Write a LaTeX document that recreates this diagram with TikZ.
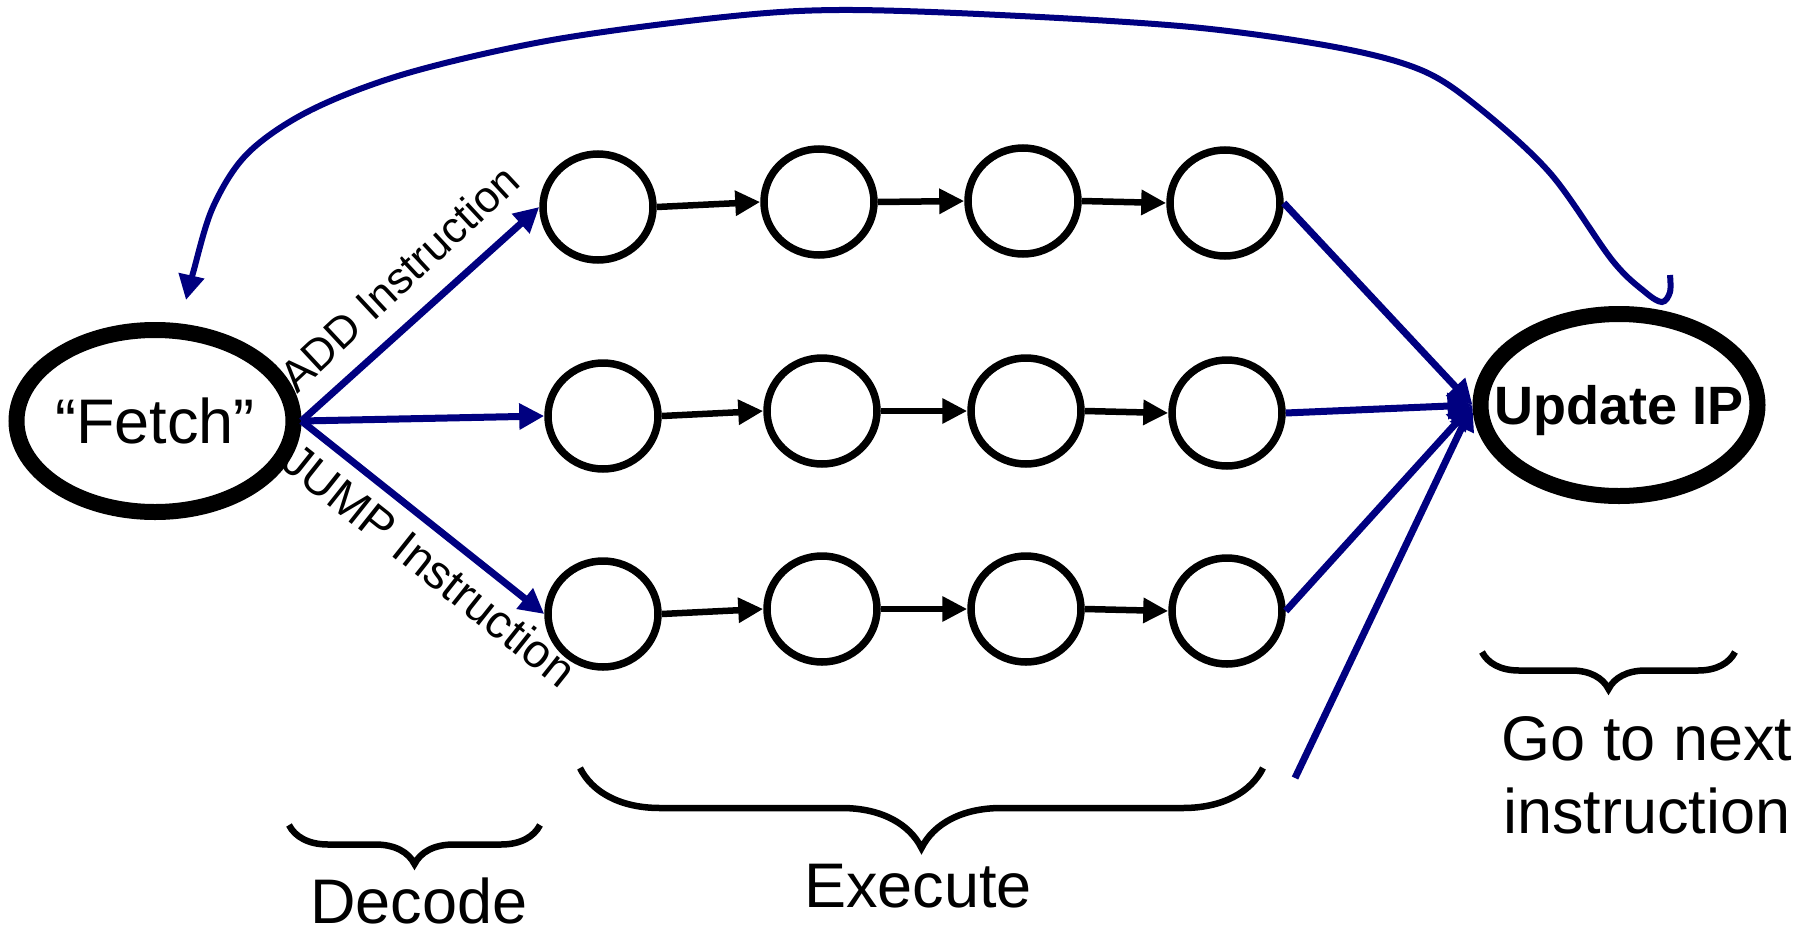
\documentclass[tikz,border=0pt]{standalone}
\usepackage{fontspec}
\setmainfont{Liberation Sans}
\usetikzlibrary{arrows.meta,shapes.geometric,decorations.pathreplacing}
\definecolor{navyblue}{RGB}{0,0,128}
\begin{document}
\begin{tikzpicture}[x=1pt,y=-1pt,
  bigell/.style={ellipse, draw, line width=16pt, minimum width=277pt, minimum height=182pt, inner sep=0pt},
  stage/.style={ellipse, draw, line width=7.5pt, minimum width=110pt, minimum height=106pt, inner sep=0pt},
  blk/.style={line width=6.5pt, -{Triangle[length=25pt,width=24pt]}},
  blu/.style={draw=navyblue, line width=7pt, -{Triangle[length=25pt,width=25pt]}},
  brc/.style={decorate, decoration={brace, mirror, amplitude=#1}, line width=6.5pt},
  lab/.style={font=\fontsize{63}{73}\selectfont, inner sep=0pt}
]
\useasboundingbox (0,0) rectangle (1810,929);

% main ellipses
\node[bigell, font=\fontsize{63}{75}\selectfont] (fetch) at (155,421) {\makebox[0pt]{“Fetch”}};
\node[bigell, font=\bfseries\fontsize{54}{64}\selectfont, text depth=0pt] (upd) at (1619,405) {\makebox[0pt]{Update IP}};

% stage circles
\node[stage] (a1) at (598,207) {};
\node[stage] (a2) at (819,202) {};
\node[stage] (a3) at (1023,201) {};
\node[stage] (a4) at (1225,203) {};
\node[stage] (b1) at (603,416) {};
\node[stage] (b2) at (822,411) {};
\node[stage] (b3) at (1026,411) {};
\node[stage] (b4) at (1227,413) {};
\node[stage] (c1) at (603,614) {};
\node[stage] (c2) at (822,609) {};
\node[stage] (c3) at (1026,609) {};
\node[stage] (c4) at (1227,611) {};

% black arrows
\draw[blk] (a1.east) -- (a2.west);
\draw[blk] (a2.east) -- (a3.west);
\draw[blk] (a3.east) -- (a4.west);
\draw[blk] (b1.east) -- (b2.west);
\draw[blk] (b2.east) -- (b3.west);
\draw[blk] (b3.east) -- (b4.west);
\draw[blk] (c1.east) -- (c2.west);
\draw[blk] (c2.east) -- (c3.west);
\draw[blk] (c3.east) -- (c4.west);

% decode arrows
\draw[blu] (fetch.east) -- (a1.west);
\draw[blu] (fetch.east) -- (b1.west);
\draw[blu] (fetch.east) -- (c1.west);

% to update IP
\coordinate (xin) at (1295,778);
\draw[blu] (a4.east) -- (upd.west);
\draw[blu] (b4.east) -- (upd.west);
\draw[blu] (c4.east) -- (upd.west);
\draw[blu] (xin) -- (upd.west);

% loop back
\coordinate (ls) at (1670,275);
\coordinate (lt) at (186,300);
\draw[blu, line width=6pt] plot[smooth, tension=0.55] coordinates {(ls) (1670,292) (1662,302) (1645,292) (1612,260) (1550,173) (1478,107) (1421,70) (1335,47) (1191,27) (1000,15) (839,10) (724,17) (552,40) (408,73) (311,110) (248,153) (213,207) (193,273) (lt)};

% labels on arrows
\node[font=\fontsize{44}{53}\selectfont, rotate=43, inner sep=0pt] (addl) at (399,278) {ADD Instruction};
\node[font=\fontsize{47}{56}\selectfont, rotate=-38.5, inner sep=0pt] (jmpl) at (430,565) {JUMP Instruction};

% braces
\draw[brc=39] (289,825) -- (540,825);
\draw[brc=80] (580,768) -- (1263,768);
\draw[brc=37] (1482,652) -- (1735,652);

\node[lab, anchor=base] (dec) at (419,923) {Decode};
\node[lab, anchor=base] (exe) at (918,907) {Execute};
\node[lab, anchor=base, align=center] (gonext) at (1647,833) {Go to next\\instruction};
\end{tikzpicture}
\end{document}
